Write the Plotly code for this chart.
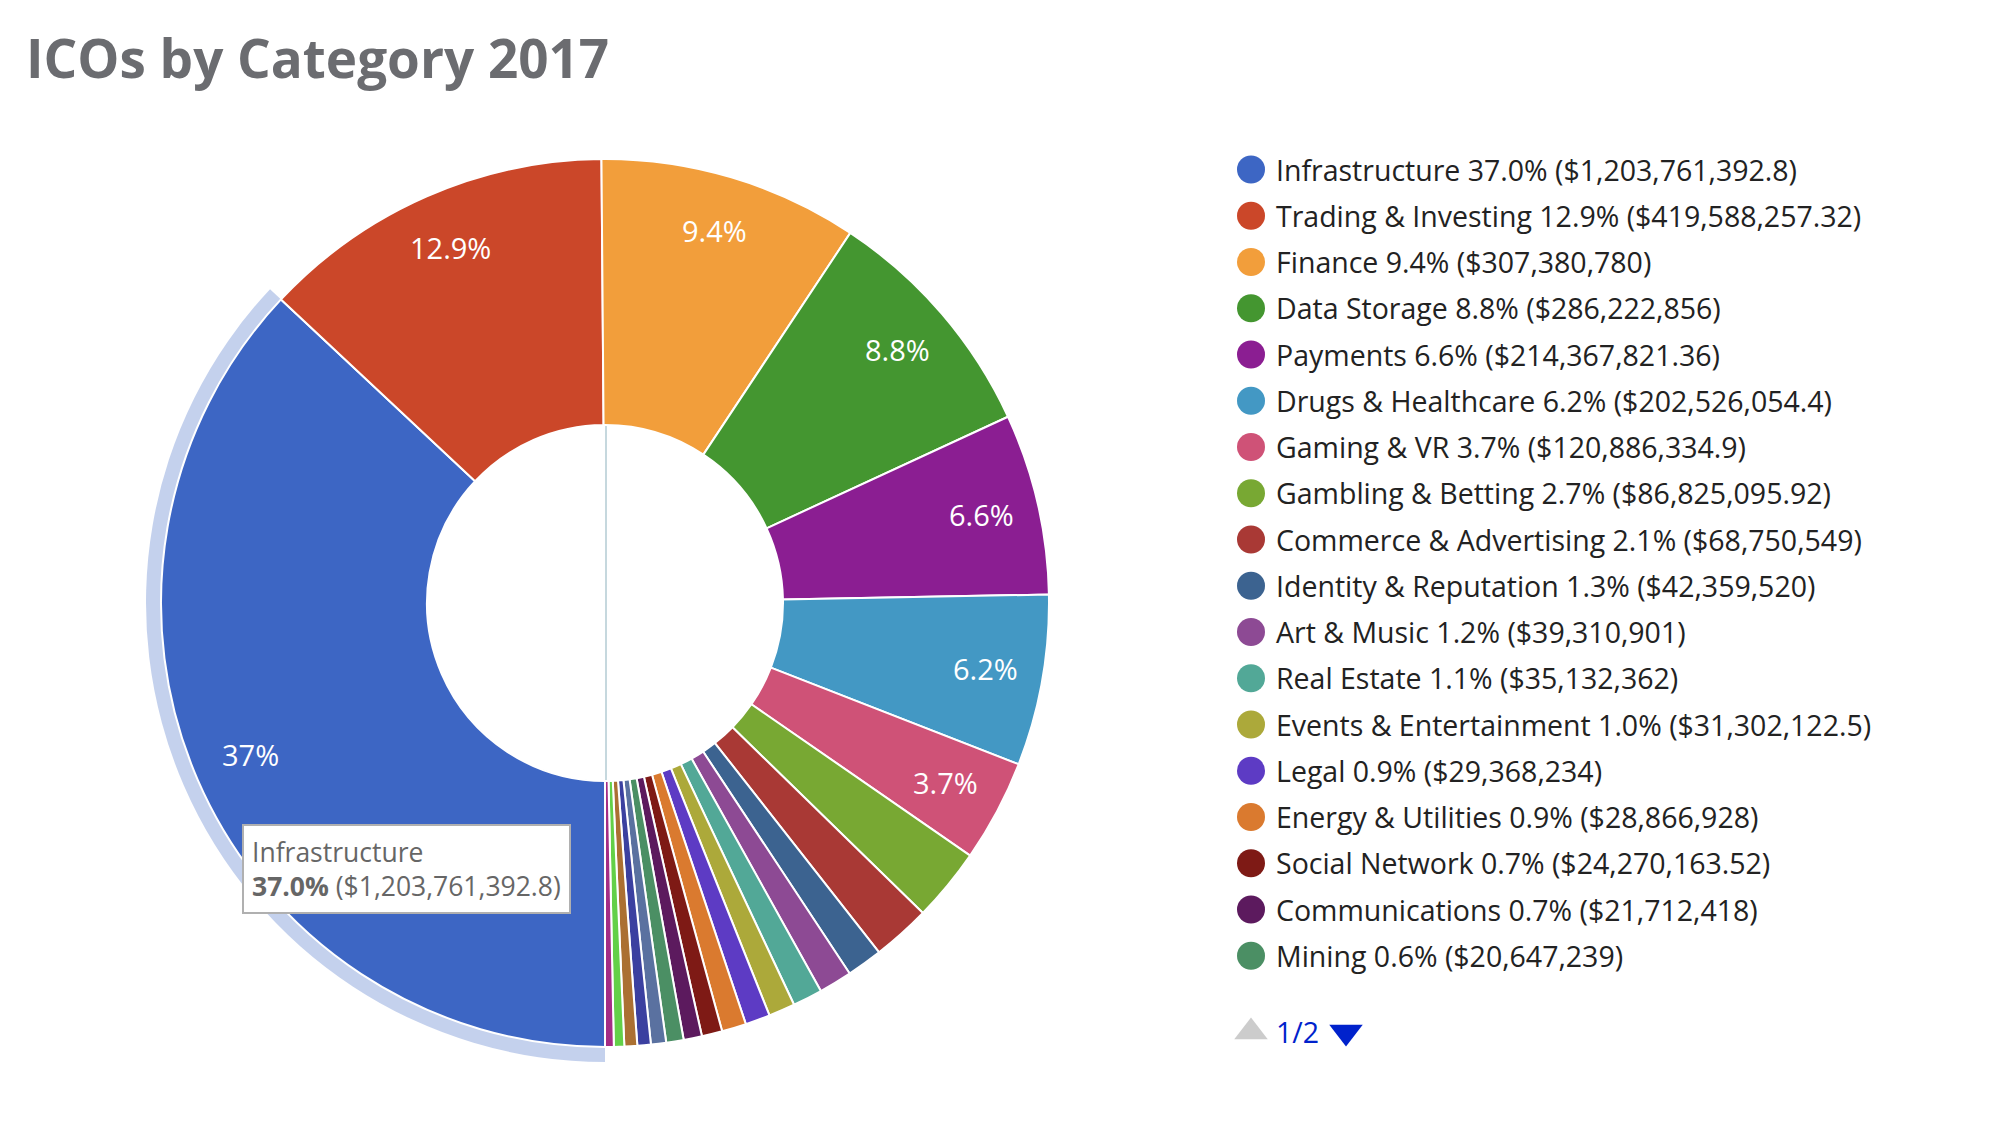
import math
import plotly.graph_objects as go

# dados (valores em USD)
categorias = ["Infrastructure", "Trading & Investing", "Finance", "Data Storage", "Payments",
              "Drugs & Healthcare", "Gaming & VR", "Gambling & Betting", "Commerce & Advertising",
              "Identity & Reputation", "Art & Music", "Real Estate", "Events & Entertainment",
              "Legal", "Energy & Utilities", "Social Network", "Communications", "Mining",
              # pagina 2 da legenda: nomes nao aparecem na imagem
              "Page 2 item 1", "Page 2 item 2", "Page 2 item 3", "Page 2 item 4", "Page 2 item 5"]
valores = [1203761392.8, 419588257.32, 307380780, 286222856, 214367821.36,
           202526054.4, 120886334.9, 86825095.92, 68750549,
           42359520, 39310901, 35132362, 31302122.5,
           29368234, 28866928, 24270163.52, 21712418, 20647239,
           18000000, 15900000, 15200000, 12300000, 10300000]
cores = ["#3d66c4", "#cb4729", "#f29e3b", "#449630", "#8b1e92",
         "#4398c4", "#cf5277", "#78a833", "#a93935",
         "#3c6390", "#8d4a94", "#52a897", "#aca93a",
         "#5d3bc4", "#da7a2f", "#7e1a15", "#5c1a5e", "#4b8f64",
         "#5a71a0", "#3b40a0", "#ab7032", "#63d048", "#a42d85"]
itens_pagina = 18
titulo = "ICOs by Category 2017"

W, H = 1998, 1148
OFF = 8  # margem padrao do body da pagina
CX, CY = 605, 603
R, R_HOLE, R_HALO, R_LABEL = 444, 178, 459, 386

total = sum(valores)


def fmtUsd(v):
    return "$" + f"{v:,.2f}".rstrip("0").rstrip(".")


def fmtPct(v):
    return f"{100 * v / total:.1f}%"


# dominio do pie em fracao do papel, a partir do centro/raio na tela
def dominio(r):
    fw, fh = W - 2 * OFF, H - 2 * OFF
    cx, cy = CX - OFF, CY - OFF
    return dict(x=[(cx - r) / fw, (cx + r) / fw], y=[1 - (cy + r) / fh, 1 - (cy - r) / fh])


fig = go.Figure()

# halo do hover em volta de Infrastructure
fig.add_trace(go.Pie(
    labels=categorias, values=valores, sort=False, direction="clockwise", rotation=180,
    domain=dominio(R_HALO), hole=0.9, textinfo="none", hoverinfo="skip",
    marker=dict(colors=["rgba(61,102,196,0.3)"] + ["rgba(0,0,0,0)"] * (len(valores) - 1),
                line=dict(width=0)),
    showlegend=False,
))

fig.add_trace(go.Pie(
    labels=categorias, values=valores, sort=False, direction="clockwise", rotation=180,
    domain=dominio(R), hole=R_HOLE / R, textinfo="none", hoverinfo="skip",
    marker=dict(colors=cores, line=dict(color="white", width=2)),
    showlegend=False,
))

# rotulos dentro das fatias (so as maiores)
anots = []
acum = 0
for v in valores:
    pct = 100 * v / total
    meio = math.radians(180 + 360 * (acum + v / 2) / total)
    acum += v
    if pct < 3:
        continue
    txt = f"{pct:.1f}"
    if txt.endswith(".0"):
        txt = txt[:-2]
    anots.append(dict(x=CX + R_LABEL * math.sin(meio), y=CY - 2 - R_LABEL * math.cos(meio),
                      xref="x", yref="y", text=txt + "%", showarrow=False,
                      font=dict(family="Open Sans", size=29, color="white")))

# legenda feita a mao (pagina 1 de 2)
ys = [169.5 + i * 46.25 for i in range(itens_pagina)]
fig.add_trace(go.Scatter(
    x=[1251] * itens_pagina, y=ys, mode="markers", hoverinfo="skip", showlegend=False,
    marker=dict(size=28, color=cores[:itens_pagina], symbol="circle"),
))
for i in range(itens_pagina):
    anots.append(dict(x=1274, y=ys[i], xref="x", yref="y", xanchor="left", yanchor="middle",
                      text=f"{categorias[i]} {fmtPct(valores[i])} ({fmtUsd(valores[i])})",
                      showarrow=False, font=dict(family="Open Sans", size=28.5, color="#222222")))

# paginador
fig.add_trace(go.Scatter(
    x=[1251, 1346], y=[1032, 1032], mode="markers", hoverinfo="skip", showlegend=False,
    marker=dict(size=29, color=["#cccccc", "#0022cc"], symbol=["triangle-up", "triangle-down"]),
))
anots.append(dict(x=1274, y=1032, xref="x", yref="y", xanchor="left", yanchor="middle",
                  text="1/2", showarrow=False, font=dict(family="Open Sans", size=28.5, color="#0022cc")))

# titulo
anots.append(dict(x=24, y=57, xref="x", yref="y", xanchor="left", yanchor="middle",
                  text=titulo, showarrow=False,
                  font=dict(family="Open Sans", size=53, color="#6b6c70", weight="bold")))

# tooltip fixo
anots.append(dict(x=242, y=824, xref="x", yref="y", xanchor="left", yanchor="top",
                  text=f"{categorias[0]}<br><b>{fmtPct(valores[0])}</b> ({fmtUsd(valores[0])})",
                  showarrow=False, align="left", bgcolor="white", bordercolor="#b0b0b0",
                  borderwidth=2, borderpad=8,
                  font=dict(family="Open Sans", size=26.5, color="#666666")))

fig.update_layout(
    width=W - 2 * OFF, height=H - 2 * OFF, margin=dict(l=0, r=0, t=0, b=0),
    paper_bgcolor="white", plot_bgcolor="rgba(0,0,0,0)",
    xaxis=dict(range=[OFF, W - OFF], visible=False, fixedrange=True),
    yaxis=dict(range=[H - OFF, OFF], visible=False, fixedrange=True),
    annotations=anots,
    shapes=[
        dict(type="line", xref="x", yref="y", x0=CX + 1, x1=CX + 1, y0=CY - R_HOLE, y1=CY + R_HOLE,
             line=dict(color="#b3cbd3", width=1.5), layer="below"),
    ],
)

fig.write_html("out.html")
